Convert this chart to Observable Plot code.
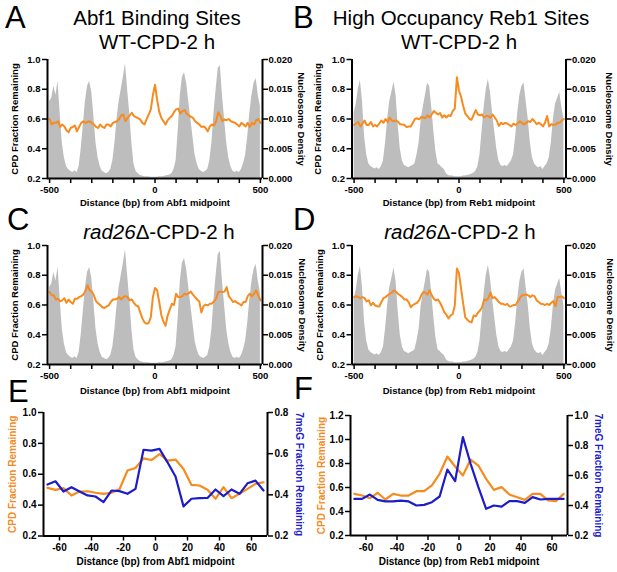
<!DOCTYPE html>
<html><head><meta charset="utf-8">
<script src="https://cdn.jsdelivr.net/npm/d3@7"></script>
<script src="https://cdn.jsdelivr.net/npm/@observablehq/plot@0.6"></script>
<style>
body{margin:0;background:#fff;}
#fig{position:relative;width:617px;height:572px;overflow:hidden;font-family:"Liberation Sans",Arial,sans-serif;color:#000;}
.abs{position:absolute;line-height:1;white-space:nowrap;}
.letter{font-size:31px;}
.title{font-size:20.5px;text-align:center;width:320px;}
</style></head><body><div id="fig"></div>
<script>
// ---------- data ----------
const bp = d3.range(-500, 501, 10);            // bp positions for panels A-D
const bpXTicks = [-500,-400,-300,-200,-100,0,100,200,300,400,500];
const bpXLabeled = [-500, 0, 500];
const cpdTicks = [0.2, 0.4, 0.6, 0.8, 1.0];
const nucTickLabels = ["0.000","0.005","0.010","0.015","0.020"];

const nucAbf1 = [0.0130,0.0135,0.0155,0.0140,0.0164,0.0110,0.0060,0.0035,0.0020,0.0015,
0.0012,0.0010,0.0013,0.0010,0.0020,0.0050,0.0090,0.0130,0.0155,0.0163,
0.0145,0.0105,0.0060,0.0035,0.0020,0.0012,0.0010,0.0008,0.0010,0.0015,
0.0030,0.0060,0.0100,0.0130,0.0150,0.0170,0.0193,0.0150,0.0110,0.0060,
0.0025,0.0012,0.0008,0.0005,0.0004,0.0003,0.0003,0.0003,0.0002,0.0002,
0.0002,0.0002,0.0003,0.0003,0.0003,0.0004,0.0005,0.0006,0.0008,0.0015,
0.0030,0.0080,0.0140,0.0170,0.0178,0.0160,0.0130,0.0100,0.0070,0.0040,
0.0025,0.0015,0.0012,0.0010,0.0012,0.0015,0.0030,0.0060,0.0110,0.0150,
0.0185,0.0190,0.0140,0.0100,0.0060,0.0035,0.0020,0.0012,0.0010,0.0012,
0.0010,0.0015,0.0025,0.0040,0.0070,0.0110,0.0140,0.0160,0.0168,0.0140,
0.0120];

const nucReb1 = [0.0110,0.0125,0.0150,0.0165,0.0130,0.0070,0.0040,0.0025,0.0020,0.0018,
0.0016,0.0018,0.0015,0.0020,0.0030,0.0060,0.0100,0.0130,0.0145,0.0162,
0.0140,0.0090,0.0050,0.0030,0.0022,0.0020,0.0018,0.0020,0.0022,0.0025,
0.0040,0.0060,0.0100,0.0120,0.0140,0.0160,0.0155,0.0120,0.0080,0.0045,
0.0025,0.0022,0.0018,0.0015,0.0008,0.0005,0.0004,0.0004,0.0003,0.0003,
0.0003,0.0003,0.0004,0.0004,0.0005,0.0006,0.0007,0.0009,0.0012,0.0020,
0.0040,0.0080,0.0120,0.0150,0.0167,0.0145,0.0110,0.0080,0.0050,0.0030,
0.0022,0.0020,0.0022,0.0020,0.0025,0.0030,0.0040,0.0070,0.0110,0.0140,
0.0155,0.0161,0.0130,0.0100,0.0060,0.0035,0.0025,0.0020,0.0018,0.0020,
0.0015,0.0020,0.0025,0.0035,0.0060,0.0100,0.0125,0.0135,0.0145,0.0120,
0.0100];

const cpdA = [.600,.563,.574,.574,.585,.547,.563,.550,.524,.510,
.540,.547,.556,.517,.547,.574,.585,.574,.580,.585,
.574,.563,.547,.540,.563,.547,.540,.563,.563,.550,
.574,.580,.585,.600,.624,.630,.585,.608,.624,.642,
.620,.612,.605,.597,.574,.563,.597,.630,.665,.760,
.830,.730,.650,.608,.585,.563,.592,.608,.620,.646,
.665,.670,.637,.653,.660,.637,.624,.615,.608,.585,
.574,.563,.547,.550,.540,.517,.550,.563,.556,.585,
.646,.620,.585,.597,.592,.600,.585,.580,.574,.563,
.550,.574,.563,.550,.574,.547,.574,.563,.592,.600,
.574];

const cpdB = [.560,.570,.580,.550,.570,.590,.560,.560,.580,.550,
.560,.550,.570,.590,.575,.600,.580,.610,.590,.585,
.590,.580,.565,.563,.560,.545,.550,.550,.574,.600,
.605,.597,.614,.610,.605,.625,.610,.630,.653,.642,
.630,.640,.610,.625,.610,.625,.620,.653,.670,.880,
.790,.750,.687,.637,.620,.600,.595,.630,.660,.630,
.625,.630,.610,.620,.620,.608,.630,.610,.590,.553,
.574,.565,.574,.570,.560,.550,.570,.560,.570,.585,
.574,.563,.574,.585,.580,.600,.585,.565,.574,.565,
.550,.574,.620,.550,.565,.560,.563,.574,.574,.590,
.600];

const cpdC = [.687,.665,.665,.637,.642,.624,.631,.646,.615,.637,
.620,.608,.642,.642,.653,.660,.670,.694,.733,.699,
.690,.665,.626,.612,.600,.585,.580,.590,.597,.620,
.637,.637,.642,.653,.637,.653,.660,.653,.631,.637,
.615,.597,.592,.550,.510,.483,.474,.479,.517,.653,
.714,.699,.620,.533,.488,.460,.529,.569,.608,.600,
.676,.653,.653,.660,.676,.670,.680,.690,.670,.653,
.637,.624,.550,.592,.603,.597,.608,.610,.624,.642,
.687,.690,.687,.690,.720,.660,.642,.620,.626,.615,
.608,.597,.620,.620,.660,.676,.658,.676,.699,.665,
.631];

const cpdD = [.653,.660,.653,.646,.653,.646,.624,.631,.597,.615,
.597,.592,.590,.620,.646,.653,.665,.676,.683,.699,
.687,.674,.665,.653,.637,.637,.620,.585,.600,.608,
.615,.631,.665,.687,.683,.670,.699,.665,.642,.631,
.637,.615,.585,.551,.535,.510,.529,.540,.597,.846,
.812,.710,.608,.517,.501,.488,.483,.529,.524,.547,
.563,.585,.637,.631,.646,.683,.646,.653,.637,.620,
.608,.608,.600,.608,.590,.592,.600,.600,.624,.646,
.665,.665,.671,.665,.653,.665,.660,.631,.620,.608,
.606,.600,.608,.600,.615,.626,.592,.653,.653,.658,
.646];

// panels E-F: 5-bp bins
const bins = [-67.5,-62.5,-57.5,-52.5,-47.5,-42.5,-37.5,-32.5,-27.5,-22.5,-17.5,-12.5,-7.5,-2.5,
2.5,7.5,12.5,17.5,22.5,27.5,32.5,37.5,42.5,47.5,52.5,57.5,62.5,67.5];
const binXTicks = [-60,-40,-20,0,20,40,60];
const cpdE = [.512,.499,.510,.462,.488,.490,.480,.473,.480,.503,.624,.641,.703,.692,
.731,.688,.695,.634,.531,.527,.499,.441,.516,.445,.473,.505,.538,.548];
const megE = [.450,.466,.416,.437,.416,.397,.392,.365,.421,.418,.405,.429,.619,.615,
.623,.558,.489,.344,.381,.384,.385,.426,.394,.426,.405,.456,.469,.421];
const cpdF = [.547,.533,.511,.556,.500,.547,.533,.533,.569,.569,.617,.714,.858,.775,
.700,.833,.783,.672,.580,.603,.542,.519,.497,.547,.547,.492,.486,.547];
const megF = [.444,.444,.473,.438,.427,.427,.433,.427,.400,.404,.422,.460,.640,.562,
.856,.678,.522,.378,.400,.393,.429,.429,.418,.456,.440,.444,.444,.444];

// ---------- styling ----------
const ORANGE = "#F68B1F", BLUE = "#1C1CC8", GRAY = "#BDBDBD";
const FONT = "'Liberation Sans', Arial, sans-serif";
const fig = document.getElementById("fig");

function place(el, left, top) {
  el.style.position = "absolute"; el.style.left = left + "px"; el.style.top = top + "px";
  fig.appendChild(el);
}
function addText(html, cls, left, baseline, size, center) {
  const d = document.createElement("div");
  d.className = "abs " + cls; d.innerHTML = html;
  const top = baseline - 0.85 * size;
  if (center !== undefined) { d.style.left = (center - 160) + "px"; } else { d.style.left = left + "px"; }
  d.style.top = top + "px";
  fig.appendChild(d);
}

const lbl = {textAnchor: "middle", lineAnchor: "middle", fontWeight: "bold"};

function nucPanel(o) {
  const toLeft = v => 0.2 + v / 0.020 * 0.8;
  const rows = bp.map((x, i) => ({x, n: toLeft(o.nuc[i]), c: o.cpd[i]}));
  const svg = Plot.plot({
    width: o.width, height: o.height,
    marginLeft: o.mL, marginRight: o.mR, marginTop: o.mT, marginBottom: o.mB,
    style: {fontFamily: FONT, fontSize: "9.5px", fontWeight: "bold", background: "transparent", overflow: "visible"},
    x: {domain: [-510, 510]},
    y: {domain: [0.2, 1.0]},
    marks: [
      Plot.areaY(rows, {x: "x", y1: 0.2, y2: "n", fill: GRAY}),
      Plot.lineY(rows, {x: "x", y: "c", stroke: ORANGE, strokeWidth: 2}),
      Plot.axisX({ticks: bpXTicks, tickSize: 5, tickPadding: 3, strokeWidth: 1.5, label: null,
        tickFormat: d => bpXLabeled.includes(d) ? String(d) : ""}),
      Plot.axisY({ticks: cpdTicks, tickSize: 5, tickPadding: 2, strokeWidth: 1.5, label: null,
        tickFormat: d => d.toFixed(1)}),
      Plot.axisY({anchor: "right", ticks: cpdTicks, tickSize: 5, tickPadding: 1, strokeWidth: 1.5, label: null,
        tickFormat: d => nucTickLabels[cpdTicks.indexOf(d)]}),
      Plot.ruleY([0.2], {strokeWidth: 2}),
      Plot.ruleX([-510, 510], {strokeWidth: 2}),
      Plot.text(["CPD Fraction Remaining"], {...lbl, text: d => d, frameAnchor: "left", dx: o.dxL, rotate: -90, fontSize: 9.5}),
      Plot.text(["Nucleosome Density"], {...lbl, text: d => d, frameAnchor: "right", dx: o.dxR, rotate: 90, fontSize: 9.5}),
      Plot.text([o.xLabel], {...lbl, text: d => d, frameAnchor: "bottom", dy: o.dyX, fontSize: 9.5})
    ]
  });
  place(svg, o.left, o.top);
}

function pairPanel(o) {
  const k = (o.leftMax - 0.2) / (o.rightMax - 0.2);
  const megToLeft = r => 0.2 + (r - 0.2) * k;
  const rows = bins.map((x, i) => ({x, c: o.cpd[i], m: megToLeft(o.meg[i])}));
  const rightPos = o.rightTicks.map(megToLeft);
  const svg = Plot.plot({
    width: o.width, height: o.height,
    marginLeft: o.mL, marginRight: o.mR, marginTop: o.mT, marginBottom: o.mB,
    style: {fontFamily: FONT, fontSize: "10px", fontWeight: "bold", background: "transparent", overflow: "visible"},
    x: {domain: [-70, 70]},
    y: {domain: [0.2, o.leftMax]},
    marks: [
      Plot.lineY(rows, {x: "x", y: "c", stroke: ORANGE, strokeWidth: 2.2}),
      Plot.lineY(rows, {x: "x", y: "m", stroke: BLUE, strokeWidth: 2.2}),
      Plot.axisX({ticks: binXTicks, tickSize: 5, tickPadding: 3, strokeWidth: 1.5, label: null, tickFormat: d => String(d)}),
      Plot.axisY({ticks: o.leftTicks, tickSize: 5, tickPadding: 2, strokeWidth: 1.5, label: null, tickFormat: d => d.toFixed(1)}),
      Plot.axisY({anchor: "right", ticks: rightPos, tickSize: 5, tickPadding: 2, strokeWidth: 1.5, label: null,
        tickFormat: d => o.rightTicks[rightPos.indexOf(d)].toFixed(1)}),
      Plot.ruleY([0.2], {strokeWidth: 2}),
      Plot.ruleX([-70, 70], {strokeWidth: 2}),
      Plot.text(["CPD Fraction Remaining"], {...lbl, text: d => d, frameAnchor: "left", dx: o.dxL, rotate: -90, fontSize: 10, fill: ORANGE}),
      Plot.text(["7meG Fraction Remaining"], {...lbl, text: d => d, frameAnchor: "right", dx: o.dxR, rotate: 90, fontSize: 10, fill: BLUE}),
      Plot.text([o.xLabel], {...lbl, text: d => d, frameAnchor: "bottom", dy: o.dyX, fontSize: 10})
    ]
  });
  place(svg, o.left, o.top);
}

nucPanel({left: 0, top: 0, width: 308, height: 212, mL: 47, mR: 46, mT: 59, mB: 34,
  nuc: nucAbf1, cpd: cpdA, xLabel: "Distance (bp) from Abf1 midpoint", dxL: -33, dxR: 39, dyX: 24.5});
nucPanel({left: 308, top: 0, width: 309, height: 212, mL: 43.5, mR: 51.5, mT: 59, mB: 34,
  nuc: nucReb1, cpd: cpdB, xLabel: "Distance (bp) from Reb1 midpoint", dxL: -34, dxR: 43.5, dyX: 24.5});
nucPanel({left: 0, top: 212, width: 308, height: 186, mL: 47, mR: 46, mT: 33, mB: 34,
  nuc: nucAbf1, cpd: cpdC, xLabel: "Distance (bp) from Abf1 midpoint", dxL: -33, dxR: 40, dyX: 26});
nucPanel({left: 308, top: 212, width: 309, height: 186, mL: 43.5, mR: 51.5, mT: 33, mB: 34,
  nuc: nucReb1, cpd: cpdD, xLabel: "Distance (bp) from Reb1 midpoint", dxL: -32.5, dxR: 44.5, dyX: 26});
pairPanel({left: 0, top: 398, width: 308, height: 174, mL: 43, mR: 41, mT: 14, mB: 36.5,
  cpd: cpdE, meg: megE, leftMax: 1.0, rightMax: 0.8, leftTicks: [0.2,0.4,0.6,0.8,1.0], rightTicks: [0.2,0.4,0.6,0.8],
  xLabel: "Distance (bp) from Abf1 midpoint", dxL: -30.5, dxR: 32, dyX: 25.5});
pairPanel({left: 308, top: 398, width: 309, height: 174, mL: 42, mR: 50, mT: 17, mB: 37,
  cpd: cpdF, meg: megF, leftMax: 1.2, rightMax: 1.0, leftTicks: [0.2,0.4,0.6,0.8,1.0,1.2], rightTicks: [0.2,0.4,0.6,0.8,1.0],
  xLabel: "Distance (bp) from Reb1 midpoint", dxL: -28.5, dxR: 31, dyX: 26.5});

// letters and titles
addText("A", "letter", 5, 28, 31);
addText("B", "letter", 293, 28, 31);
addText("C", "letter", 7, 230, 31);
addText("D", "letter", 293, 230, 31);
addText("E", "letter", 8, 402, 31);
addText("F", "letter", 294, 399, 31);
addText("Abf1 Binding Sites", "title", 0, 25, 20.5, 157);
addText("WT-CPD-2 h", "title", 0, 49.5, 20.5, 157);
addText("High Occupancy Reb1 Sites", "title", 0, 25, 20.5, 461);
addText("WT-CPD-2 h", "title", 0, 49.5, 20.5, 459);
addText("<i>rad26</i>Δ-CPD-2 h", "title", 0, 239, 20.5, 159);
addText("<i>rad26</i>Δ-CPD-2 h", "title", 0, 239, 20.5, 460);
</script></body></html>
